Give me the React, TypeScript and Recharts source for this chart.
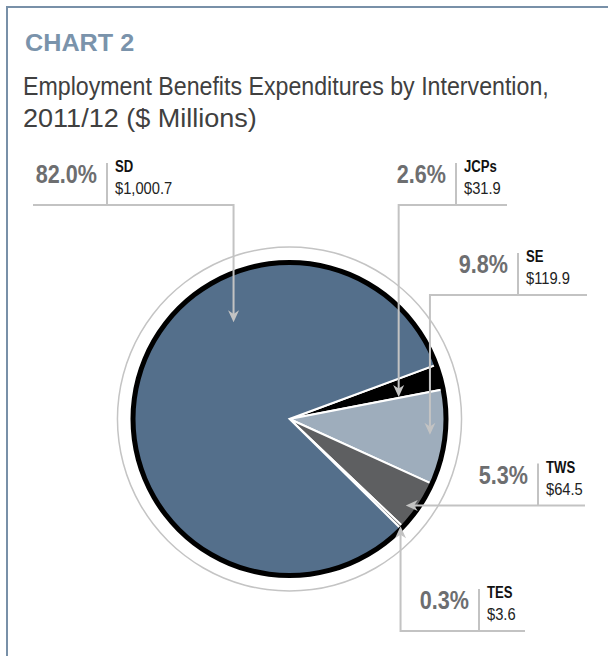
import React from 'react';
import { PieChart, Pie, Cell } from 'recharts';

// Employment Benefits expenditures, 2011/12 ($ millions), clockwise from the JCPs wedge
const categories = ['JCPs', 'SE', 'TWS', 'TES', 'SD'];
const expenditures = [31.9, 119.9, 64.5, 3.6, 1000.7];
const sliceColors = ['#000000', '#9eadbc', '#5e5f61', '#5e5f61', '#546f8b'];

const titleLines = ['Employment Benefits Expenditures by Intervention,', '2011/12 ($ Millions)'];

const chartData = categories.map((name, i) => ({ name, value: expenditures[i] }));
const ringData = [{ name: 'ring', value: 1 }];

const FONT = '"Liberation Sans", Arial, sans-serif';
const LEADER = '#c3c3c3';
const RAD = Math.PI / 180;

// callout placement: tipT / tipR place the arrow tip inside the slice,
// mode 'v' = elbow down/up to the tip, 'h' = straight horizontal run to the tip
const callouts = [
  { mode: 'v', sepX: 456, lineY: 205, lineEnd: 507, tipT: 0.94, tipR: 0.714 },
  { mode: 'v', sepX: 518, lineY: 295, lineEnd: 587, tipT: 0.49, tipR: 0.906 },
  { mode: 'h', sepX: 538, lineY: 0, lineEnd: 585, tipT: 0.64, tipR: 0.929 },
  { mode: 'v', sepX: 479, lineY: 631, lineEnd: 525, tipT: 0.5, tipR: 0.99 },
  { mode: 'v', sepX: 107, lineY: 205, lineEnd: 33, tipT: 0.662, tipR: 0.716 },
];

const fmtMoney = (v: number) =>
  '$' + v.toLocaleString('en-US', { minimumFractionDigits: 1, maximumFractionDigits: 1 });

// condensed look: squeeze the glyphs horizontally around the anchor point
const NarrowText = ({ x, y, sx, anchor = 'start', children, ...rest }: any) => (
  <text
    transform={`translate(${x},${y}) scale(${sx},1)`}
    x={0}
    y={0}
    textAnchor={anchor}
    fontFamily={FONT}
    {...rest}
  >
    {children}
  </text>
);

const arrowHead = (tip: { x: number; y: number }, dx: number, dy: number) => {
  // notched arrow pointing along (dx, dy)
  const len = Math.hypot(dx, dy) || 1;
  const ux = dx / len;
  const uy = dy / len;
  const px = -uy;
  const py = ux;
  const L = 12;
  const W = 5.5;
  const back = { x: tip.x - ux * L, y: tip.y - uy * L };
  const notch = { x: tip.x - ux * L * 0.7, y: tip.y - uy * L * 0.7 };
  return `${tip.x},${tip.y} ${back.x + px * W},${back.y + py * W} ${notch.x},${notch.y} ${back.x - px * W},${back.y - py * W}`;
};

const renderCallout = (props: any) => {
  const { cx, cy, startAngle, endAngle, outerRadius, index, percent, value, name } = props;
  const c = callouts[index];
  if (!c) return null;
  const a = startAngle + (endAngle - startAngle) * c.tipT;
  const r = outerRadius * c.tipR;
  const tip = { x: cx + r * Math.cos(-a * RAD), y: cy + r * Math.sin(-a * RAD) };
  const lineY = c.mode === 'h' ? tip.y : c.lineY;

  let path: string;
  let arrow: string;
  if (c.mode === 'h') {
    path = `M ${c.lineEnd},${lineY} H ${tip.x + 8}`;
    arrow = arrowHead(tip, -1, 0);
  } else {
    const dir = tip.y > lineY ? 1 : -1;
    path = `M ${c.lineEnd},${lineY} H ${tip.x} V ${tip.y - dir * 8}`;
    arrow = arrowHead(tip, 0, dir);
  }

  return (
    <g key={`callout-${index}`}>
      <path d={path} fill="none" stroke={LEADER} strokeWidth={2} />
      <polygon points={arrow} fill={LEADER} />
      <line x1={c.sepX} x2={c.sepX} y1={lineY - 42} y2={lineY} stroke={LEADER} strokeWidth={2} />
      <NarrowText x={c.sepX - 10} y={lineY - 22} sx={0.83} anchor="end" fontWeight="bold" fontSize={26} fill="#6d6e70">
        {(percent * 100).toFixed(1)}%
      </NarrowText>
      <NarrowText x={c.sepX + 8} y={lineY - 33} sx={0.82} fontWeight="bold" fontSize={16} fill="#111">
        {name}
      </NarrowText>
      <NarrowText x={c.sepX + 8} y={lineY - 11} sx={0.92} fontSize={16} fill="#222">
        {fmtMoney(value)}
      </NarrowText>
    </g>
  );
};

export default function App() {
  const cx = 289.5;
  const cy = 419;
  const start = 20.3;

  return (
    <div style={{ position: 'absolute', left: 0, top: 0, width: 608, height: 656, background: '#fff', overflow: 'hidden' }}>
      <div
        style={{
          position: 'absolute',
          left: 6,
          top: 6,
          width: 608,
          height: 656,
          borderTop: '2px solid #7890a8',
          borderLeft: '2px solid #7890a8',
        }}
      />
      <div style={{ position: 'absolute', left: 0, top: 0 }}>
        <PieChart width={608} height={656} margin={{ top: 0, right: 0, bottom: 0, left: 0 }}>
          <Pie
            data={chartData}
            dataKey="value"
            nameKey="name"
            cx={cx}
            cy={cy}
            outerRadius={156}
            startAngle={start}
            endAngle={start - 360}
            stroke="#ffffff"
            strokeWidth={2}
            isAnimationActive={false}
          >
            {chartData.map((d, i) => (
              <Cell key={d.name} fill={sliceColors[i]} />
            ))}
          </Pie>
          <Pie
            data={ringData}
            dataKey="value"
            cx={cx}
            cy={cy}
            innerRadius={154}
            outerRadius={159}
            startAngle={90}
            endAngle={-270}
            fill="#000000"
            stroke="none"
            isAnimationActive={false}
          />
          <Pie
            data={ringData}
            dataKey="value"
            cx={cx}
            cy={cy}
            innerRadius={171.3}
            outerRadius={172.8}
            startAngle={90}
            endAngle={-270}
            fill="#c4c4c4"
            stroke="none"
            isAnimationActive={false}
          />
          <Pie
            data={chartData}
            dataKey="value"
            nameKey="name"
            cx={cx}
            cy={cy}
            outerRadius={156}
            startAngle={start}
            endAngle={start - 360}
            fill="none"
            stroke="none"
            label={renderCallout}
            labelLine={false}
            isAnimationActive={false}
          />
        </PieChart>
      </div>
      <svg width={608} height={140} style={{ position: 'absolute', left: 0, top: 0, pointerEvents: 'none' }}>
        <NarrowText x={25} y={51} sx={1.05} fontWeight="bold" fontSize={24} fill="#7a93ab">
          CHART 2
        </NarrowText>
        {titleLines.map((t, i) => (
          <NarrowText key={t} x={23} y={95 + i * 32} sx={i === 0 ? 0.892 : 1.04} fontSize={26} fill="#404040">
            {t}
          </NarrowText>
        ))}
      </svg>
    </div>
  );
}
